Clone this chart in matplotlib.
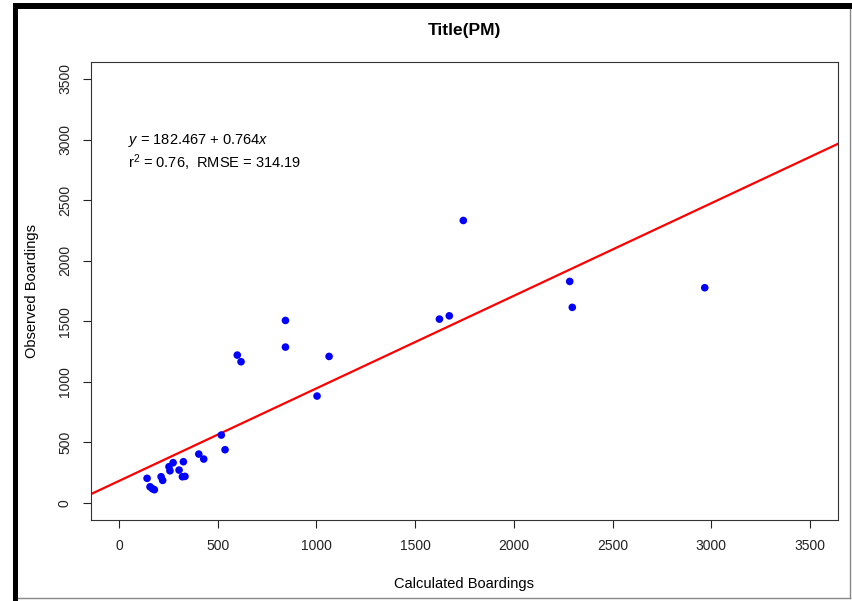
import numpy as np
import matplotlib
matplotlib.use("Agg")
import matplotlib.pyplot as plt
from matplotlib.patches import Rectangle
from matplotlib.lines import Line2D

plt.rcParams['font.family'] = ['Liberation Sans', 'DejaVu Sans']
plt.rcParams['mathtext.fontset'] = 'custom'
plt.rcParams['mathtext.rm'] = 'Liberation Sans'
plt.rcParams['mathtext.it'] = 'Liberation Sans:italic'

# calculated vs observed boardings
calculated = [142, 157, 169, 179, 213, 221, 253, 258, 274, 304, 326, 321, 334,
              404, 429, 518, 537,
              843, 843, 599, 618, 1064, 1003,
              1744, 1623, 1673,
              2283, 2296, 2967]
observed = [204, 134, 118, 110, 217, 187, 300, 266, 333, 272, 341, 217, 220,
            404, 363, 561, 440,
            1507, 1287, 1221, 1166, 1210, 883,
            2332, 1518, 1545,
            1829, 1615, 1777]

intercept = 182.467
slope = 0.764
r2_text = "0.76"
rmse_text = "314.19"
ticks = [0, 500, 1000, 1500, 2000, 2500, 3000, 3500]

W, H = 853, 601
fig = plt.figure(figsize=(W / 100, H / 100), dpi=100)
ax = fig.add_axes([91.4 / W, (H - 520) / H, (837.6 - 91.4) / W, (520 - 62) / H])

lim = (-140, 3640)
ax.set_xlim(lim)
ax.set_ylim(lim)

ax.scatter(calculated, observed, s=30, color='#0000ff', edgecolors='none', zorder=3)

# regression line across the whole plot (abline)
xl = np.array(lim)
ax.plot(xl, intercept + slope * xl, color='#ff0000', lw=1.6, zorder=2)

ax.set_xticks(ticks)
ax.set_yticks(ticks)
ax.set_xticklabels([str(t) for t in ticks])
ax.set_yticklabels([str(t) for t in ticks], rotation=90, va='center')
ax.tick_params(axis='both', direction='out', length=6, width=0.8, labelsize=10,
               colors='#222222', pad=8)
for sp in ax.spines.values():
    sp.set_linewidth(0.8)
    sp.set_color('#333333')

ax.set_xlabel('Calculated Boardings', fontsize=10.5, labelpad=17)
ax.set_ylabel('Observed Boardings', fontsize=10.5, labelpad=14)
ax.set_title('Title(PM)', fontsize=12.5, fontweight='bold', pad=19.5)

ax.text(46, 2995, r'$\it{y}$ = 182.467 + 0.764$\it{x}$', fontsize=10.5, va='center')
ax.text(46, 2805, r'r$^2$ = ' + r2_text + ',  RMSE = ' + rmse_text, fontsize=10.5, va='center')

# screenshot frame
fig.add_artist(Rectangle((13 / W, 0), 5 / W, (H - 3) / H, transform=fig.transFigure,
                         color='black', lw=0))
fig.add_artist(Rectangle((13 / W, (H - 9) / H), (W - 13) / W, 6 / H, transform=fig.transFigure,
                         color='black', lw=0))
fig.add_artist(Line2D([850 / W, 850 / W], [(H - 598) / H, (H - 9) / H], transform=fig.transFigure,
                      color='#888888', lw=1))
fig.add_artist(Line2D([18 / W, 850 / W], [(H - 598) / H, (H - 598) / H], transform=fig.transFigure,
                      color='#888888', lw=1))

fig.savefig('out.png', dpi=100)
